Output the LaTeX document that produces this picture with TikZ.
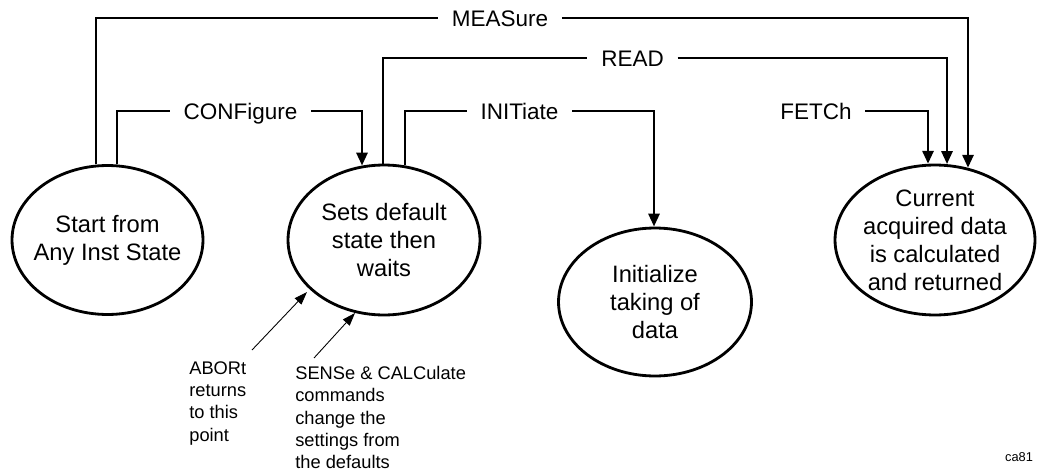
\documentclass[tikz,border=0pt]{standalone}
\usepackage{fontspec}
\setmainfont{Liberation Sans}
\usetikzlibrary{arrows.meta,calc,shapes.geometric}
\begin{document}
\begin{tikzpicture}[x=0.02cm,y=-0.02cm,
  state/.style={draw, ellipse, line width=1.6pt, inner xsep=-0.2cm, inner ysep=-0.2cm,
    align=center, font=\fontsize{13.5}{15.9}\selectfont},
  lbl/.style={inner xsep=0.27cm, inner ysep=0pt, text height=9.2pt, text depth=0pt,
    font=\fontsize{12.8}{15}\selectfont},
  conn/.style={line width=1.6pt},
  arr/.style={conn, -{Triangle[length=0.26cm,width=0.22cm]}},
  annot/.style={align=left, inner sep=0pt, font=\fontsize{10.4}{12.7}\selectfont},
  annarr/.style={line width=0.5pt, -{Triangle[length=0.26cm,width=0.18cm]}}]

\useasboundingbox (0,0) rectangle (1037,473);

% states
\node[state, minimum width=3.82cm, minimum height=2.98cm] (start) at (107.5,240) {Start from\\Any Inst State};
\node[state, minimum width=3.84cm, minimum height=3.0cm] (sets) at (384,240) {Sets default\\state then\\waits};
\node[state, minimum width=3.86cm, minimum height=2.96cm] (init) at (655,302) {Initialize\\taking of\\data};
\node[state, minimum width=4.0cm, minimum height=3.0cm] (cur) at (935,240) {Current\\acquired data\\is calculated\\and returned};

% labels
\node[lbl] (meas) at (500,18) {MEASure};
\node[lbl] (read) at (632.5,58) {READ};
\node[lbl] (conf) at (240.5,111) {CONFigure};
\node[lbl] (initl) at (519.5,111) {INITiate};
\node[lbl] (fetch) at (816,111) {FETCh};

% connectors
\draw[conn] ($(start.north)+(-11.5,0)$) |- (meas.west);
\draw[arr] (meas.east) -| ($(cur.north)+(33,4.2)$);

\draw[conn] ($(start.north)+(9.5,0)$) |- (conf.west);
\draw[arr] (conf.east) -| ($(sets.north)+(-22,2)$);

\draw[conn] ($(sets.north)+(-1,0)$) |- (read.west);
\draw[arr] (read.east) -| ($(cur.north)+(12,0.5)$);

\draw[conn] ($(sets.north)+(21,1.8)$) |- (initl.west);
\draw[arr] (initl.east) -| ($(init.north)+(-1,0)$);

\draw[arr] (fetch.east) -| ($(cur.north)+(-7,0.2)$);

% annotations
\node[annot, anchor=north west] (abort) at (189,361) {ABORt\\returns\\to this\\point};
\node[annot, anchor=north west] (sense) at (295,366) {SENSe \& CALCulate\\commands\\change the\\settings from\\the defaults};
\coordinate (abtail) at (252,350);
\coordinate (abtip) at (307,292);
\coordinate (setail) at (314,358);
\coordinate (setip) at (355,313);
\draw[annarr] (abtail) -- (abtip);
\draw[annarr] (setail) -- (setip);

\node[inner sep=0pt, font=\fontsize{7.3}{9}\selectfont] (code) at (1019,457) {ca81};
\end{tikzpicture}
\end{document}
